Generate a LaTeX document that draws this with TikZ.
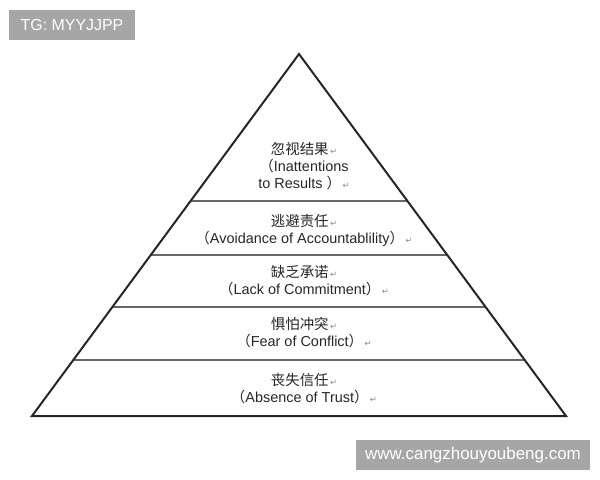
\documentclass[tikz,border=0pt]{standalone}
\usepackage{fontspec}
\setmainfont{Liberation Sans}
\newfontfamily\zhfont{Noto Sans CJK SC}
\newfontfamily\symfont{DejaVu Sans}
\usetikzlibrary{calc}
\newcommand\zh[1]{{\zhfont #1}}
\newcommand\retmark{{\symfont\fontsize{8.5}{8.5}\selectfont\color{black!45}\,↵}}
\begin{document}
\begin{tikzpicture}[x=1bp,y=-1bp,
    every node/.style={font=\fontsize{14.5}{17}\selectfont,text=black!85,
      align=center,inner sep=0pt},
    levelline/.style={draw=black!60,line width=1.6bp},
    side/.style={draw=black!85,line width=2bp,line join=miter},
    tag/.style={fill=black!35,text=white,minimum height=30bp}] %
    \useasboundingbox (0,0) rectangle (600,480);%
    % corners of the pyramid
    \coordinate (apex) at (299,54);%
    \coordinate (bl) at (32,416);%
    \coordinate (br) at (566,416);%

    % boundaries between the levels
    \draw[levelline] ($(apex)!0.406!(bl)$) -- ($(apex)!0.406!(br)$);%
    \draw[levelline] ($(apex)!0.555!(bl)$) -- ($(apex)!0.555!(br)$);%
    \draw[levelline] ($(apex)!0.699!(bl)$) -- ($(apex)!0.699!(br)$);%
    \draw[levelline] ($(apex)!0.845!(bl)$) -- ($(apex)!0.845!(br)$);%
    \draw[side] (apex) -- (bl) -- (br) -- cycle;%

    % one node per level, from the top down
    \node (results) at (304,166) {\zh{忽视结果}\retmark\\
      \zh{（}Inattentions\\
      to Results \zh{）}\retmark};%
    \node (account) at (304,230) {\zh{逃避责任}\retmark\\
      \zh{（}Avoidance of Accountablility\zh{）}\retmark};%
    \node (commit) at (304,281) {\zh{缺乏承诺}\retmark\\
      \zh{（}Lack of Commitment\zh{）}\retmark};%
    \node (conflict) at (304,333) {\zh{惧怕冲突}\retmark\\
      \zh{（}Fear of Conflict\zh{）}\retmark};%
    \node (trust) at (304,389) {\zh{丧失信任}\retmark\\
      \zh{（}Absence of Trust\zh{）}\retmark};%

    % watermarks
    \node[tag,minimum width=125bp,font=\fontsize{16}{16}\selectfont] (tg)
      at (72,25) {TG: MYYJJPP};%
    \node[tag,minimum width=234bp,font=\fontsize{17}{17}\selectfont] (site)
      at (473,455) {www.cangzhouyoubeng.com};%
  \end{tikzpicture}
\end{document}
